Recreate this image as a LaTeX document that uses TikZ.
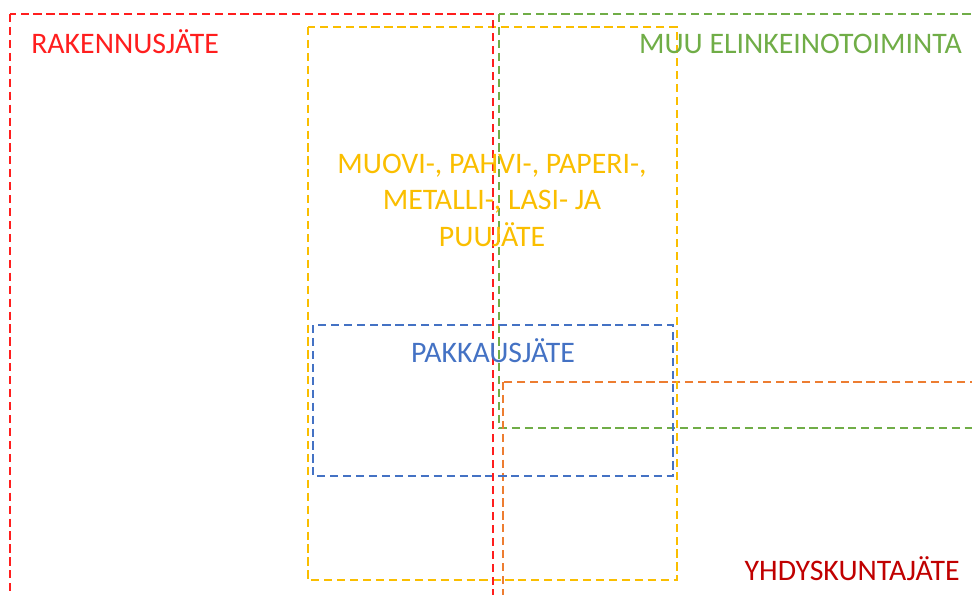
\documentclass[tikz,border=0pt]{standalone}
\usepackage{fontspec}
\setmainfont{Carlito}

\definecolor{rakred}{RGB}{255,30,30}
\definecolor{muugreen}{RGB}{112,173,71}
\definecolor{matyellow}{RGB}{250,190,0}
\definecolor{pakblue}{RGB}{68,114,196}
\definecolor{yhdorange}{RGB}{237,125,49}
\definecolor{yhdred}{RGB}{192,0,0}

\tikzset{
  wastebox/.style={line width=2pt, dash pattern=on 5.8pt off 3.4pt},
  wastelabel/.style={font=\fontsize{21.2}{26}\selectfont, inner sep=0pt},
}

\begin{document}
\begin{tikzpicture}[x=0.025cm, y=-0.025cm]
  \useasboundingbox (0,0) rectangle (972,594);
  \clip (0,0) rectangle (972,594);

  % waste categories as dashed boxes
  \draw[wastebox, muugreen] (499,14) rectangle (1000,428);
  \draw[wastebox, yhdorange] (503,382) rectangle (1000,640);
  \draw[wastebox, matyellow] (308,27) rectangle (677,580);
  \draw[wastebox, pakblue] (313,325) rectangle (673,476);
  \draw[wastebox, rakred] (10,14) rectangle (493,640);

  % labels
  \node[wastelabel, rakred, anchor=base west] (rak) at (31,53) {RAKENNUSJÄTE};
  \node[wastelabel, muugreen, anchor=base east] (muu) at (962,53) {MUU ELINKEINOTOIMINTA};
  \node[wastelabel, matyellow, align=center] (mat) at (492,200)
    {MUOVI-, PAHVI-, PAPERI-,\\ METALLI-, LASI- JA\\ PUUJÄTE};
  \node[wastelabel, pakblue, anchor=base] (pak) at (493,362) {PAKKAUSJÄTE};
  \node[wastelabel, yhdred, anchor=base east] (yhd) at (960,580) {YHDYSKUNTAJÄTE};
\end{tikzpicture}
\end{document}
